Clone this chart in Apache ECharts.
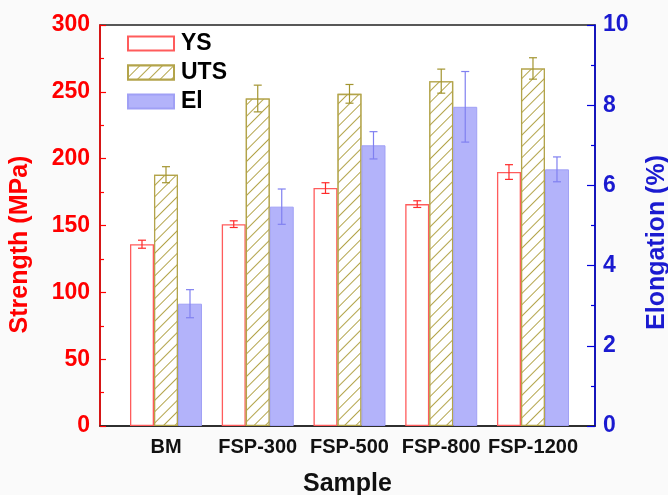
<!DOCTYPE html>
<html><head><meta charset="utf-8">
<script src="https://cdn.jsdelivr.net/npm/echarts@6/dist/echarts.min.js"></script>
<style>html,body{margin:0;padding:0;background:#fafafa}#c{width:668px;height:495px}</style>
</head><body><div id="c"></div>
<script>
var categories = ['BM', 'FSP-300', 'FSP-500', 'FSP-800', 'FSP-1200'];
var catPos = [1, 2, 3, 4, 5];
var ysValues = [136, 151, 178, 166, 190];
var ysErr = [3, 2.5, 4, 2.5, 5.5];
var utsValues = [188, 245, 248.5, 258, 267.5];
var utsErr = [6, 10, 7, 9, 8];
var elValues = [3.05, 5.47, 7.0, 7.96, 6.4];
var elErr = [0.35, 0.44, 0.34, 0.88, 0.31];
var leftTicks = [0, 50, 100, 150, 200, 250, 300];
var rightTicks = [0, 2, 4, 6, 8, 10];

var FONT = 'Arial, "Liberation Sans", sans-serif';
var BW = 24;

function barData(vals) { return vals.map(function (v, i) { return [catPos[i], v]; }); }
function errData(vals, errs) { return vals.map(function (v, i) { return [catPos[i], v - errs[i], v + errs[i]]; }); }
function errSeries(name, vals, errs, offset, color, yIdx) {
  return {
    type: 'custom', name: name + ' err', yAxisIndex: yIdx, z: 10, silent: true,
    data: errData(vals, errs),
    renderItem: function (params, api) {
      var lo = api.coord([api.value(0), api.value(1)]);
      var hi = api.coord([api.value(0), api.value(2)]);
      var x = lo[0] + offset, c = 4;
      var st = { stroke: color, lineWidth: 1.2 };
      return { type: 'group', children: [
        { type: 'line', shape: { x1: x, y1: lo[1], x2: x, y2: hi[1] }, style: st },
        { type: 'line', shape: { x1: x - c, y1: lo[1], x2: x + c, y2: lo[1] }, style: st },
        { type: 'line', shape: { x1: x - c, y1: hi[1], x2: x + c, y2: hi[1] }, style: st }
      ]};
    }
  };
}

var chart = echarts.init(document.getElementById('c'));
chart.setOption({
  backgroundColor: '#fafafa',
  animation: false,
  textStyle: { fontFamily: FONT },
  grid: { left: 100, right: 73, top: 25, bottom: 69, outerBoundsMode: 'none', containLabel: false,
    show: true, backgroundColor: '#ffffff', borderColor: '#222', borderWidth: 1.5 },
  legend: {
    orient: 'vertical', left: 122, top: 27, itemWidth: 46, itemHeight: 14, itemGap: 6, icon: 'rect',
    data: ['YS', 'UTS', 'El'],
    textStyle: { fontSize: 23, fontWeight: 'bold', color: '#000', fontFamily: FONT, padding: [0, 0, 0, 2] }
  },
  xAxis: {
    type: 'value', min: 0.2807, max: 5.676,
    name: 'Sample', nameLocation: 'middle', nameGap: 46,
    nameTextStyle: { fontSize: 25, fontWeight: 'bold', color: '#111', fontFamily: FONT },
    axisLine: { show: true, lineStyle: { color: '#222', width: 1.5 } },
    axisTick: { show: false },
    splitLine: { show: false },
    axisLabel: {
      customValues: catPos, margin: 11,
      fontSize: 20, fontWeight: 'bold', color: '#111', fontFamily: FONT,
      formatter: function (v) { return categories[Math.round(v) - 1]; }
    }
  },
  yAxis: [{
    type: 'value', min: 0, max: 300, interval: 50, position: 'left',
    name: 'Strength (MPa)', nameLocation: 'middle', nameGap: 67, nameRotate: 90,
    nameTextStyle: { fontSize: 25, fontWeight: 'bold', color: '#ff0000', fontFamily: FONT, padding: [0, 38, 0, 0] },
    axisLine: { show: true, lineStyle: { color: '#ff0000', width: 1.5 } },
    axisTick: { show: true, inside: true, length: 6, lineStyle: { color: '#ff0000', width: 1.2 } },
    minorTick: { show: true, splitNumber: 2, length: 4, lineStyle: { color: '#ff0000', width: 1.2 } },
    splitLine: { show: false },
    axisLabel: { customValues: leftTicks, margin: 10, fontSize: 23, fontWeight: 'bold', color: '#ff0000', fontFamily: FONT }
  }, {
    type: 'value', min: 0, max: 10, interval: 2, position: 'right',
    name: 'Elongation (%)', nameLocation: 'middle', nameGap: 50, nameRotate: 90,
    nameTextStyle: { fontSize: 25, fontWeight: 'bold', color: '#1a1ad0', fontFamily: FONT, padding: [0, 34, 0, 0] },
    axisLine: { show: true, lineStyle: { color: '#0000dd', width: 1.5 } },
    axisTick: { show: true, inside: true, length: 8, lineStyle: { color: '#0000dd', width: 1.2 } },
    minorTick: { show: true, splitNumber: 2, length: 4, lineStyle: { color: '#0000dd', width: 1.2 } },
    splitLine: { show: false },
    axisLabel: { customValues: rightTicks, margin: 8, fontSize: 23, fontWeight: 'bold', color: '#1a1ad0', fontFamily: FONT }
  }],
  series: [{
    type: 'bar', name: 'YS', yAxisIndex: 0, barWidth: BW, barGap: '0%',
    data: barData(ysValues),
    itemStyle: { color: '#ffffff', borderColor: '#ff5c5c', borderWidth: 1.3 }
  }, {
    type: 'bar', name: 'UTS', yAxisIndex: 0, barWidth: BW, barGap: '0%',
    data: barData(utsValues),
    itemStyle: { color: '#ffffff', borderColor: '#b3a44a', borderWidth: 1.3,
      decal: { symbol: 'rect', color: '#b3a44a', backgroundColor: '#ffffff', dashArrayX: [1, 0], dashArrayY: [1, 7], rotation: -Math.PI / 4, symbolSize: 1 } }
  }, {
    type: 'bar', name: 'El', yAxisIndex: 1, barWidth: BW, barGap: '0%',
    data: barData(elValues),
    itemStyle: { color: '#b3b3fa', borderColor: '#a0a0f5', borderWidth: 1 }
  },
  errSeries('YS', ysValues, ysErr, -BW, '#ff2a2a', 0),
  errSeries('UTS', utsValues, utsErr, 0, '#a39530', 0),
  errSeries('El', elValues, elErr, BW, '#8080f0', 1)
  ]
});
</script>
</body></html>
